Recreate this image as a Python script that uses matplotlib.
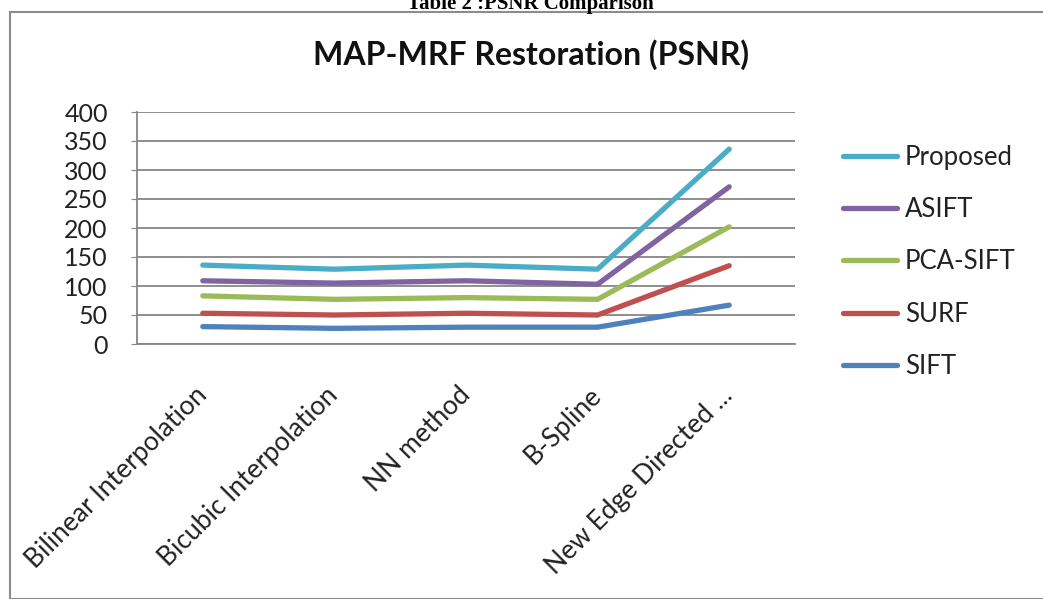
import matplotlib
matplotlib.use("Agg")
import matplotlib.pyplot as plt
from matplotlib.patches import Rectangle

plt.rcParams['font.family'] = ['Lato', 'DejaVu Sans']

# data (values as drawn on the chart)
methods = ['Bilinear Interpolation', 'Bicubic Interpolation', 'NN method',
           'B-Spline', 'New Edge Directed ...']
series_names = ['Proposed', 'ASIFT', 'PCA-SIFT', 'SURF', 'SIFT']
proposed = [136, 129, 136, 129, 336]
asift = [109, 105, 109, 103, 271]
pca_sift = [83, 77, 80, 77, 202]
surf = [53, 50, 53, 50, 135]
sift = [30, 27, 29, 29, 67]
colors = ['#4BACC6', '#8064A2', '#9BBB59', '#C0504D', '#4F81BD']
yticks = [0, 50, 100, 150, 200, 250, 300, 350, 400]

W, H = 1043, 599
fig = plt.figure(figsize=(W / 100, H / 100), dpi=100)

# chart border (cut by the page)
fig.patches.append(Rectangle((10 / W, 0), 1.2, 1 - 12 / H, transform=fig.transFigure,
                             fill=False, edgecolor='#8c8c8c', linewidth=1.5))
# page caption, cut at the top like in the scan
fig.text(530 / W, 1 - 9 / H, 'Table 2 :PSNR Comparison', ha='center', va='baseline',
         fontsize=15, fontweight='bold', family='Liberation Serif')

ax = fig.add_axes([137 / W, 1 - 344 / H, (795 - 137) / W, (344 - 112) / H])
x = range(len(methods))
for name, vals, c in zip(series_names, [proposed, asift, pca_sift, surf, sift], colors):
    ax.plot(x, vals, color=c, linewidth=3.8, label=name, solid_capstyle='round')

ax.set_xlim(-0.5, len(methods) - 0.5)
ax.set_ylim(0, 400)
ax.set_yticks(yticks)
ax.yaxis.grid(True, color='#868686', linewidth=1.3)
ax.set_axisbelow(True)
for s in ['top', 'right']:
    ax.spines[s].set_visible(False)
for s in ['left', 'bottom']:
    ax.spines[s].set_color('#868686')
    ax.spines[s].set_linewidth(1.3)
ax.tick_params(axis='y', length=4, color='#868686', pad=17, labelsize=18, labelcolor='#222222')
ax.tick_params(axis='x', length=0, pad=34, labelsize=19, labelcolor='#222222')
ax.set_xticks(list(x))
ax.set_xticklabels(methods, rotation=45, ha='right', va='center', rotation_mode='anchor')

fig.text(531 / W, 1 - 55 / H, 'MAP-MRF Restoration (PSNR)', ha='center', va='center',
         fontsize=23, fontweight='bold', color='#111111')

fig.legend(loc='upper left', bbox_to_anchor=(843 / W, 1 - 145 / H), frameon=False,
           fontsize=18.5, handlelength=2.1, handletextpad=0.3, labelspacing=1.06,
           borderpad=0, borderaxespad=0, labelcolor='#222222')

fig.savefig('out.png', dpi=100)
